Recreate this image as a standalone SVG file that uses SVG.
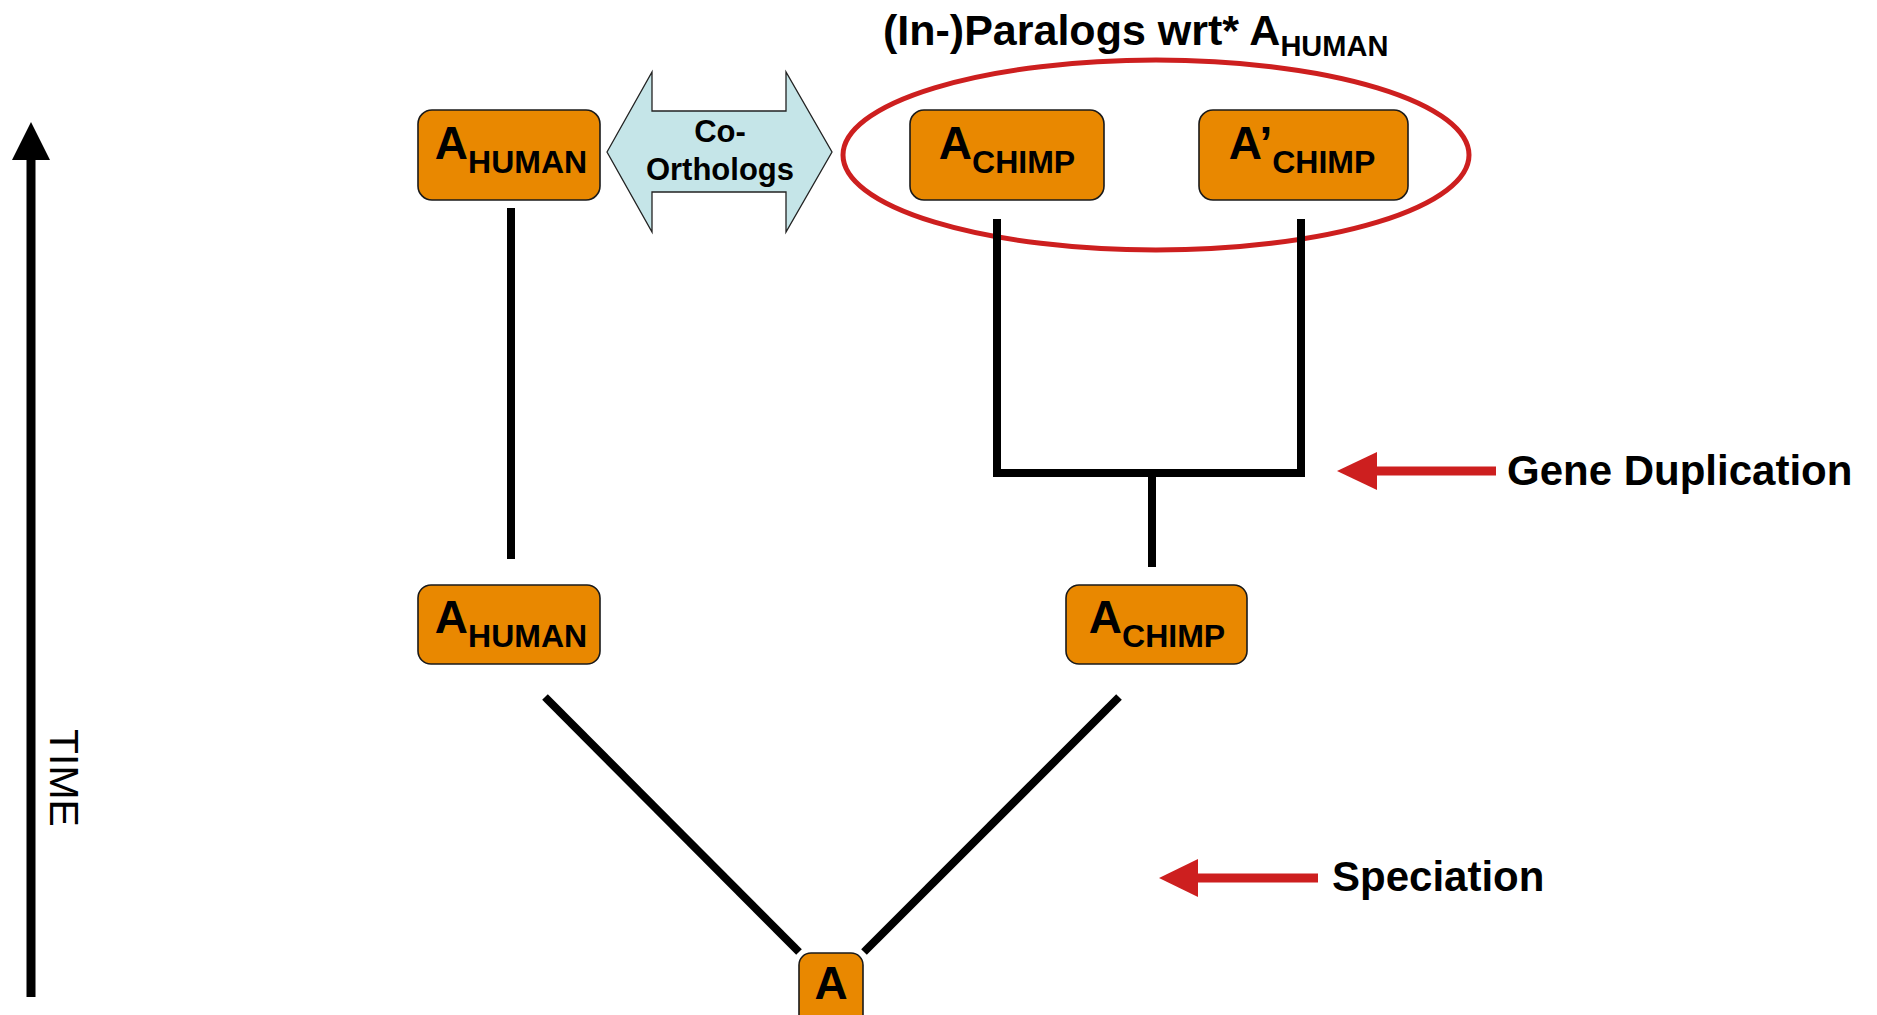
<svg xmlns="http://www.w3.org/2000/svg" width="1877" height="1015" viewBox="0 0 1877 1015">
<style>
.node{fill:#E98800;stroke:#1a1a1a;stroke-width:1.6}
.t{font-family:"Liberation Sans",Arial,sans-serif;font-weight:bold;fill:#000}
.big{font-size:46px}
.sub{font-size:32px}
.edge{stroke:#000;stroke-width:8;fill:none;stroke-linecap:butt}
.red{stroke:#CD1F1F;stroke-width:9;fill:none}
.redhead{fill:#CD1F1F}
.lbl{font-family:"Liberation Sans",Arial,sans-serif;font-weight:bold;font-size:42px;fill:#000}
</style>
<rect width="1877" height="1015" fill="#fff"/>

<!-- time axis -->
<g id="time-axis">
  <line x1="31" y1="997" x2="31" y2="155" stroke="#000" stroke-width="9"/>
  <polygon points="31,122 12,160 50,160" fill="#000"/>
  <text transform="translate(50,729) rotate(90)" font-family="'Liberation Sans',Arial,sans-serif" font-size="41px" fill="#000">TIME</text>
</g>

<!-- title -->
<g id="title">
  <text class="t" x="883" y="45" font-size="43px">(In-)Paralogs wrt* A<tspan font-size="29px" dy="11">HUMAN</tspan></text>
</g>

<!-- paralog ellipse -->
<g id="paralog-ellipse">
  <ellipse cx="1156" cy="155" rx="313" ry="95" fill="none" stroke="#CD1F1F" stroke-width="5"/>
</g>

<!-- connectors -->
<g id="connectors">
  <line class="edge" x1="511" y1="208" x2="511" y2="559"/>
  <polyline class="edge" points="997,219 997,473 1301,473 1301,219"/>
  <line class="edge" x1="1152" y1="473" x2="1152" y2="567"/>
  <line class="edge" x1="545" y1="697" x2="799" y2="952"/>
  <line class="edge" x1="1119" y1="697" x2="864" y2="952"/>
</g>

<!-- co-orthologs double arrow -->
<g id="co-orthologs">
  <polygon points="607,152 652,72 652,111 786,111 786,72 832,152 786,232 786,192 652,192 652,232" fill="#C5E5E8" stroke="#222" stroke-width="1.3"/>
  <text class="t" x="720" y="142" font-size="31px" text-anchor="middle">Co-</text>
  <text class="t" x="720" y="180" font-size="31px" text-anchor="middle">Orthologs</text>
</g>

<g id="node-a-human-top">
  <rect class="node" x="418" y="110" width="182" height="90" rx="14"/>
  <text class="t" x="511" y="159" text-anchor="middle"><tspan class="big">A</tspan><tspan class="sub" dy="14">HUMAN</tspan></text>
</g>

<g id="node-a-chimp-top">
  <rect class="node" x="910" y="110" width="194" height="90" rx="14"/>
  <text class="t" x="1007" y="159" text-anchor="middle"><tspan class="big">A</tspan><tspan class="sub" dy="14">CHIMP</tspan></text>
</g>

<g id="node-a-prime-chimp-top">
  <rect class="node" x="1199" y="110" width="209" height="90" rx="14"/>
  <text class="t" x="1302" y="159" text-anchor="middle"><tspan class="big">A’</tspan><tspan class="sub" dy="14">CHIMP</tspan></text>
</g>

<g id="node-a-human-mid">
  <rect class="node" x="418" y="585" width="182" height="79" rx="13"/>
  <text class="t" x="511" y="633" text-anchor="middle"><tspan class="big">A</tspan><tspan class="sub" dy="14">HUMAN</tspan></text>
</g>

<g id="node-a-chimp-mid">
  <rect class="node" x="1066" y="585" width="181" height="79" rx="13"/>
  <text class="t" x="1157" y="633" text-anchor="middle"><tspan class="big">A</tspan><tspan class="sub" dy="14">CHIMP</tspan></text>
</g>

<g id="node-a-root">
  <rect class="node" x="799" y="953" width="64" height="75" rx="12"/>
  <text class="t big" x="831" y="999" text-anchor="middle">A</text>
</g>

<g id="gene-duplication">
  <line class="red" x1="1372" y1="471" x2="1496" y2="471"/>
  <polygon class="redhead" points="1337,471 1377,452 1377,490"/>
  <text class="lbl" x="1507" y="485">Gene Duplication</text>
</g>

<g id="speciation">
  <line class="red" x1="1193" y1="878" x2="1318" y2="878"/>
  <polygon class="redhead" points="1159,878 1198,859 1198,897"/>
  <text class="lbl" x="1332" y="891">Speciation</text>
</g>
</svg>
